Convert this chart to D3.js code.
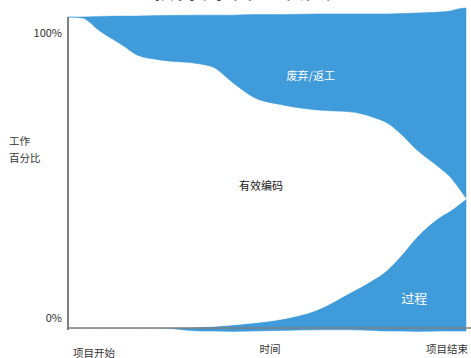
<!DOCTYPE html>
<html><head><meta charset="utf-8">
<script src="https://cdn.jsdelivr.net/npm/d3@7"></script>
<style>body{margin:0;background:#fff}svg{display:block}text{font-family:"Noto Sans CJK SC","Noto Sans",sans-serif}</style>
</head><body><svg id="c" width="471" height="358"></svg>
<script>
// time (% of project) samples
const time      = [0, 3.5, 8.0, 14.3, 17.3, 23.1, 33.2, 36.4, 41.5, 46.5, 54.0, 62.6, 70.9, 76.6, 80.2, 83.4, 87.7, 93.5, 96.0, 98.0, 100];
// below-axis offset of the process band
const dip       = [0, 0, 0, 0, 0, 0, 1.0, 1.0, 1.1, 1.0, 0.8, 0.6, 0.6, 0.8, 1.0, 1.0, 1.1, 1.0, 1.0, 1.0, 1.0];
const process   = [0, 0, 0, 0, 0, 0, 1.3, 1.5, 2.1, 2.6, 3.7, 6.4, 11.9, 16.2, 19.6, 23.8, 30.4, 36.7, 38.6, 40.5, 42.5];
const effective = [100, 99.7, 95.5, 90.4, 87.8, 86.2, 84.6, 83.4, 77.8, 72.7, 68.8, 64.3, 58.2, 52.4, 47.3, 39.9, 27.9, 15.7, 11.0, 5.8, 0.3];
const waste     = [0, 0.3, 4.7, 9.9, 12.5, 14.3, 15.7, 16.7, 21.8, 26.5, 29.1, 30.9, 31.5, 33.2, 35.1, 38.4, 44.1, 50.2, 53.3, 57.3, 61.1];
const layers = ["process", "effective", "waste"];
const layerLabels = ["过程", "有效编码", "废弃/返工"];
const yTickLabels = ["0%", "100%"];
const xLabels = ["项目开始", "时间", "项目结束"];
const yTitle = ["工作", "百分比"];
const title = "软件开发的浪费";

const rows = time.map((t, i) => ({t, process: process[i], effective: effective[i], waste: waste[i]}));
const stack = d3.stack().keys(layers).offset((series, order) => {
  d3.stackOffsetNone(series, order);
  series.forEach(s => s.forEach((d, i) => { d[0] -= dip[i]; d[1] -= dip[i]; }));
});
const stacked = stack(rows);

const svg = d3.select("#c");
const x = d3.scaleLinear().domain([0, 100]).range([68, 466]);
const y = d3.scaleLinear().domain([0, 100]).range([328, 17]);
const blue = "#3f9bd9";
const fills = {process: blue, effective: "#ffffff", waste: blue};

const area = d3.area().x((d, i) => x(time[i])).y0(d => y(d[0])).y1(d => y(d[1])).curve(d3.curveMonotoneX);
svg.append("g").selectAll("path").data(stacked).join("path")
  .attr("d", area).attr("fill", d => fills[d.key]).attr("stroke", d => fills[d.key]).attr("stroke-width", 0.5);

// title (cut off at the top)
svg.append("text").attr("x", 240).attr("y", -2).attr("text-anchor", "middle")
  .attr("font-size", 26).attr("font-weight", "bold").attr("fill", "#111").text(title);

// axes
const axisColor = "#7f7f7f";
svg.append("line").attr("x1", 68).attr("x2", 68).attr("y1", y(100)).attr("y2", 330)
  .attr("stroke", axisColor).attr("stroke-width", 2);
svg.append("line").attr("x1", 67).attr("x2", 471).attr("y1", y(0)).attr("y2", y(0))
  .attr("stroke", axisColor).attr("stroke-width", 1.5);

// y tick labels
svg.append("text").attr("x", 62).attr("y", y(100) + 20).attr("text-anchor", "end")
  .attr("font-size", 11).attr("fill", "#333").text(yTickLabels[1]);
svg.append("text").attr("x", 62).attr("y", y(0) - 6).attr("text-anchor", "end")
  .attr("font-size", 11).attr("fill", "#333").text(yTickLabels[0]);

// y title
yTitle.forEach((s, i) => svg.append("text").attr("x", 9).attr("y", 145 + i * 17)
  .attr("font-size", 10.5).attr("fill", "#333").text(s));

// x labels
const xl = [{t: 0, anchor: "start", dx: 5, dy: 29}, {t: 50, anchor: "middle", dx: 3, dy: 25}, {t: 100, anchor: "end", dx: 2, dy: 25}];
xl.forEach((o, i) => svg.append("text").attr("x", x(o.t) + o.dx).attr("y", y(0) + o.dy)
  .attr("text-anchor", o.anchor).attr("font-size", 10.5).attr("fill", "#333").text(xLabels[i]));

// in-area labels
svg.append("text").attr("x", x(61)).attr("y", 80).attr("text-anchor", "middle")
  .attr("font-size", 11).attr("fill", "#fff").text(layerLabels[2]);
svg.append("text").attr("x", x(48.5)).attr("y", 190).attr("text-anchor", "middle")
  .attr("font-size", 11).attr("fill", "#222").text(layerLabels[1]);
svg.append("text").attr("x", x(87)).attr("y", 303).attr("text-anchor", "middle")
  .attr("font-size", 13).attr("fill", "#fff").text(layerLabels[0]);
</script></body></html>
